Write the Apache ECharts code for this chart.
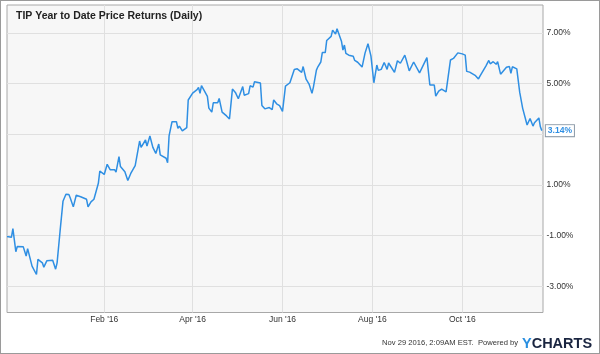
<!DOCTYPE html>
<html>
<head>
<meta charset="utf-8">
<script src="https://cdn.jsdelivr.net/npm/echarts@6/dist/echarts.min.js"></script>
<style>
  html, body { margin: 0; padding: 0; background: #fff; }
  #wrap { position: relative; width: 600px; height: 354px; }
  #chart { width: 600px; height: 354px; }
  #frame { position: absolute; left: 0; top: 0; width: 600px; height: 354px; box-sizing: border-box; border: 1px solid #9a9a9a; pointer-events: none; }
</style>
</head>
<body>
<div id="wrap"><div id="chart"></div><div id="frame"></div></div>
<script>
// ---- data ----
const dates = [
  '2015-11-27','2015-11-30','2015-12-01','2015-12-03','2015-12-04','2015-12-08','2015-12-10','2015-12-11',
  '2015-12-14','2015-12-15','2015-12-17','2015-12-18','2015-12-21','2015-12-22','2015-12-24','2015-12-28',
  '2015-12-30','2015-12-31','2016-01-02','2016-01-04','2016-01-05','2016-01-06','2016-01-08','2016-01-09',
  '2016-01-11','2016-01-13','2016-01-16','2016-01-20','2016-01-21','2016-01-23','2016-01-25','2016-01-28',
  '2016-01-29','2016-02-01','2016-02-03','2016-02-04','2016-02-05','2016-02-08','2016-02-09','2016-02-11',
  '2016-02-12','2016-02-15','2016-02-17','2016-02-19','2016-02-22','2016-02-25','2016-02-26','2016-02-29',
  '2016-03-01','2016-03-03','2016-03-05','2016-03-07','2016-03-09','2016-03-10','2016-03-14','2016-03-15',
  '2016-03-16','2016-03-18','2016-03-21','2016-03-22','2016-03-23','2016-03-25','2016-03-28','2016-03-29',
  '2016-04-01','2016-04-04','2016-04-05','2016-04-06','2016-04-07','2016-04-11','2016-04-12','2016-04-14',
  '2016-04-15','2016-04-18','2016-04-19','2016-04-21','2016-04-24','2016-04-26','2016-04-28','2016-04-30',
  '2016-05-02','2016-05-03','2016-05-05','2016-05-06','2016-05-09','2016-05-10','2016-05-12','2016-05-13',
  '2016-05-17','2016-05-18','2016-05-20','2016-05-23','2016-05-25','2016-05-26','2016-05-28','2016-05-30',
  '2016-06-01','2016-06-03','2016-06-06','2016-06-09','2016-06-11','2016-06-14','2016-06-15','2016-06-17',
  '2016-06-19','2016-06-21','2016-06-22','2016-06-24','2016-06-25','2016-06-27','2016-06-28','2016-06-30',
  '2016-07-01','2016-07-04','2016-07-05','2016-07-07','2016-07-08','2016-07-11','2016-07-12','2016-07-13',
  '2016-07-14','2016-07-16','2016-07-19','2016-07-20','2016-07-22','2016-07-25','2016-07-27','2016-07-29',
  '2016-07-31','2016-08-02','2016-08-04','2016-08-05','2016-08-07','2016-08-09','2016-08-11','2016-08-12',
  '2016-08-16','2016-08-18','2016-08-20','2016-08-23','2016-08-24','2016-08-26','2016-08-29','2016-08-30',
  '2016-09-02','2016-09-07','2016-09-09','2016-09-12','2016-09-13','2016-09-15','2016-09-17','2016-09-18',
  '2016-09-20','2016-09-23','2016-09-25','2016-09-28','2016-10-01','2016-10-03','2016-10-04','2016-10-06',
  '2016-10-10','2016-10-12','2016-10-13','2016-10-14','2016-10-17','2016-10-19','2016-10-20','2016-10-22',
  '2016-10-24','2016-10-25','2016-10-27','2016-10-31','2016-11-02','2016-11-03','2016-11-04','2016-11-07',
  '2016-11-09','2016-11-11','2016-11-14','2016-11-16','2016-11-18','2016-11-19','2016-11-22','2016-11-23',
  '2016-11-24'
];
const values = [
  -1.04,-1.07,-0.73,-1.64,-1.43,-1.44,-1.81,-1.52,
  -2.21,-2.25,-2.54,-1.94,-2.08,-2.25,-2.00,-1.98,
  -2.33,-2.08,-0.84,0.35,0.40,0.63,0.62,0.47,
  0.13,0.59,0.53,0.43,0.13,0.33,0.43,1.06,
  1.54,1.41,1.81,1.84,1.60,1.60,1.50,2.11,
  1.72,1.52,1.17,1.45,1.76,2.73,2.48,2.77,
  2.53,2.93,2.48,2.24,2.61,2.18,2.05,1.87,
  2.93,3.49,3.49,3.23,3.32,3.13,3.26,4.35,
  4.62,4.76,4.85,4.61,4.92,4.49,4.03,3.87,
  4.24,4.24,4.41,3.87,3.72,3.60,4.78,4.65,
  4.40,4.45,4.88,4.54,4.60,4.91,4.86,5.07,
  5.02,4.13,4.00,4.05,3.97,4.35,4.20,4.13,
  3.90,4.90,5.03,5.55,5.58,5.44,5.67,5.17,
  4.98,4.61,4.87,5.53,5.66,5.85,6.22,6.22,
  6.70,6.86,7.11,6.95,7.16,6.67,6.32,6.52,
  6.19,6.12,6.08,5.91,5.84,5.65,6.20,6.57,
  6.09,5.03,5.73,5.52,5.56,5.83,5.56,5.81,
  5.44,5.90,5.80,6.12,5.93,5.50,5.85,5.80,
  5.42,6.02,4.94,4.94,4.50,4.70,4.78,4.71,
  4.67,5.93,5.99,6.21,6.17,6.12,5.48,5.45,
  5.31,5.18,5.29,5.24,5.69,5.91,5.78,5.86,
  5.76,5.86,5.37,5.64,5.67,5.40,5.66,5.58,
  4.65,4.02,3.36,3.62,3.32,3.45,3.64,3.29,
  3.14
];
const xTickDates = ['2016-02-01','2016-04-01','2016-06-01','2016-08-01','2016-10-01'];
const xTickLabels = ["Feb '16", "Apr '16", "Jun '16", "Aug '16", "Oct '16"];
const yGridValues = [-3, -1, 1, 3, 5, 7];
const yLabelValues = [-3, -1, 1, 5, 7];
const xRangeStart = '2015-11-27 00:00';
const xRangeEnd = '2016-11-24 19:00';
const titleText = 'TIP Year to Date Price Returns (Daily)';
const footerText = 'Nov 29 2016, 2:09AM EST.  Powered by';

// ---- build ----
function parseD(s) {
  const m = s.match(/(\d+)-(\d+)-(\d+)(?:[ T](\d+):(\d+))?/);
  return Date.UTC(+m[1], +m[2] - 1, +m[3], m[4] ? +m[4] : 0, m[5] ? +m[5] : 0);
}
const xTickTs = xTickDates.map(parseD);
const seriesData = dates.map((d, i) => [parseD(d), values[i]]);
const FONT = '"Liberation Sans", Arial, Helvetica, sans-serif';
const BLUE = '#2f8fe3';

const chart = echarts.init(document.getElementById('chart'), null, { renderer: 'canvas' });
chart.setOption({
  animation: false,
  backgroundColor: '#ffffff',
  textStyle: { fontFamily: FONT },
  title: {
    text: titleText,
    left: 16, top: 11, padding: 0,
    textStyle: { fontFamily: FONT, fontSize: 10.5, fontWeight: 'bold', color: '#222' }
  },
  grid: {
    left: 7, right: 57, top: 5, bottom: 41.5,
    show: true, backgroundColor: '#f7f7f7', borderColor: '#a8a8a8', borderWidth: 1,
    containLabel: false
  },
  xAxis: {
    type: 'value',
    min: parseD(xRangeStart), max: parseD(xRangeEnd),
    axisLine: { show: false },
    axisTick: { show: false, customValues: xTickTs },
    splitLine: { show: true, lineStyle: { color: '#e0e0e0', width: 1 } },
    axisLabel: {
      customValues: xTickTs,
      hideOverlap: false,
      margin: 2.5,
      color: '#333', fontSize: 8.5, fontFamily: FONT,
      formatter: function (v) {
        const i = xTickTs.indexOf(v);
        return i >= 0 ? xTickLabels[i] : '';
      }
    }
  },
  yAxis: {
    type: 'value', position: 'right',
    min: -4.04, max: 8.1,
    axisLine: { show: false },
    axisTick: { show: false, customValues: yGridValues },
    splitLine: { show: true, lineStyle: { color: '#e0e0e0', width: 1 } },
    axisLabel: {
      customValues: yLabelValues,
      margin: 3.5,
      color: '#333', fontSize: 8.5, fontFamily: FONT,
      formatter: v => v.toFixed(2) + '%'
    }
  },
  series: [{
    type: 'line',
    data: seriesData,
    showSymbol: false,
    symbol: 'none',
    lineStyle: { color: BLUE, width: 1.5 },
    itemStyle: { color: BLUE },
    endLabel: {
      show: true,
      distance: 4,
      formatter: p => p.value[1].toFixed(2) + '%',
      color: BLUE, fontSize: 8.5, fontWeight: 'bold', fontFamily: FONT,
      backgroundColor: '#ffffff', borderColor: '#8c9aa8', borderWidth: 1,
      padding: [1, 2, 1, 2]
    }
  }],
  graphic: [
    {
      type: 'text', right: 82, top: 338.5,
      style: { text: footerText, fill: '#333', font: '7.6px ' + FONT, textAlign: 'right' }
    },
    {
      type: 'text', left: 522, top: 336.5,
      style: {
        text: '{y|Y}{c|CHARTS}',
        rich: {
          y: { fill: '#2a8fe0', fontSize: 14.5, fontWeight: 'bold', fontFamily: FONT },
          c: { fill: '#1a2540', fontSize: 14.5, fontWeight: 'bold', fontFamily: FONT }
        }
      }
    }
  ]
});
</script>
</body>
</html>
